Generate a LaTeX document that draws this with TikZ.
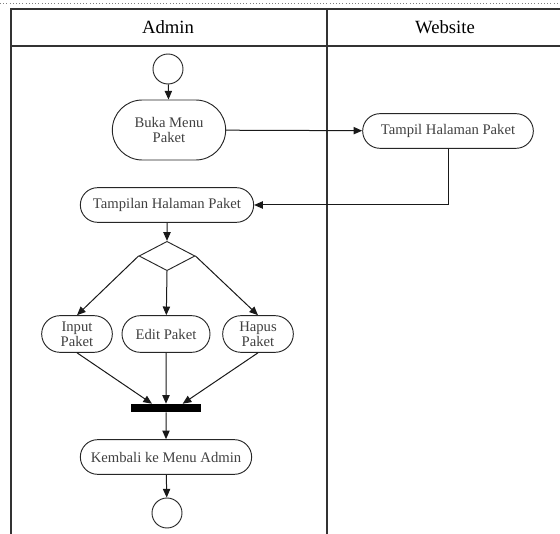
\documentclass[tikz,border=0pt]{standalone}
\usepackage{fontspec}
\setmainfont{Liberation Serif}
\usetikzlibrary{shapes.misc,shapes.geometric,arrows.meta}

\begin{document}
\begin{tikzpicture}[x=0.75pt,y=-0.75pt,
    act/.style={draw=black!85,rounded rectangle,line width=0.7pt,inner sep=1pt,text=black!75,font=\fontsize{11}{11.5}\selectfont,align=center,minimum height=26pt},
    lane/.style={draw=black!80,line width=1pt},
    head/.style={font=\fontsize{14}{16}\selectfont},
    flow/.style={-{Triangle[length=6.5pt,width=5.5pt]},line width=0.75pt,black!90},
    ends/.style={draw=black!85,circle,line width=0.7pt,minimum size=22.5pt,inner sep=0pt}]
        \useasboundingbox(0,0)rectangle(560,534);
        \draw[gray,dotted](0,3)--(560,3);
        \draw[lane](11,534)--(11,9)--(560,9);
        \draw[lane](11,46)--(560,46);
        \draw[lane](327,9)--(327,534);
        \node[head](admin)at(168,27){Admin};
        \node[head](website)at(445,27){Website};

        \node[ends](start)at(168,69){};
        \node[act,minimum width=87pt,minimum height=45pt](buka)at(169,130){Buka Menu\\Paket};
        \node[act,minimum width=130pt](tampil)at(448,131){Tampil Halaman Paket};
        \node[act,minimum width=132pt](tampilan)at(167,205){Tampilan Halaman Paket};
        \node[draw=black!85,diamond,line width=0.7pt,minimum width=42pt,minimum height=22pt,inner sep=0pt](pilih)at(167,256){};
        \node[act,minimum width=55pt,minimum height=27.5pt](input)at(77,334){Input\\Paket};
        \node[act,minimum width=68pt,minimum height=27.5pt](edit)at(166,334){Edit Paket};
        \node[act,minimum width=55pt,minimum height=27.5pt](hapus)at(258,334){Hapus\\Paket};
        \node[fill=black,minimum width=52pt,minimum height=6pt,inner sep=0pt](gabung)at(166,408){};
        \node[act,minimum width=130.5pt](kembali)at(166,457){Kembali ke Menu Admin};
        \node[ends](selesai)at(167,513){};

        \draw[flow](start)--(buka);
        \draw[flow](buka)--(tampil);
        \draw[flow](tampil)|-(tampilan);
        \draw[flow](tampilan)--(pilih);
        \draw[flow](pilih.west)--(input.north);
        \draw[flow](pilih.south)--(edit);
        \draw[flow](pilih.east)--(hapus.north);
        \draw[flow](input.south)--([xshift=-10.5pt]gabung.north);
        \draw[flow](edit)--(gabung);
        \draw[flow](hapus.south)--([xshift=12.5pt]gabung.north);
        \draw[flow](gabung)--(kembali);
        \draw[flow](kembali)--(selesai);
    \end{tikzpicture}
\end{document}
